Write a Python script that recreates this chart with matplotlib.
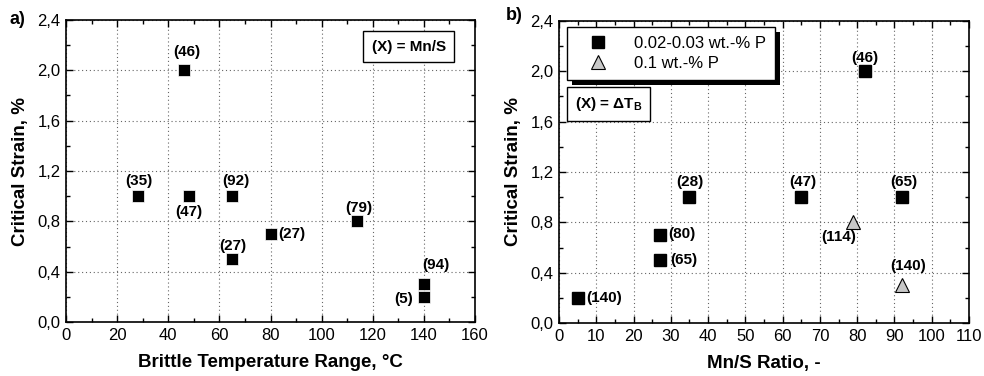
import matplotlib
matplotlib.use("Agg")
import matplotlib.pyplot as plt
from matplotlib.ticker import MultipleLocator, FuncFormatter
from matplotlib.patches import Rectangle
from matplotlib.transforms import IdentityTransform

plt.rcParams['font.family'] = ['Liberation Sans', 'DejaVu Sans']
plt.rcParams['mathtext.fontset'] = 'custom'
plt.rcParams['mathtext.rm'] = 'Liberation Sans'
plt.rcParams['mathtext.bf'] = 'Liberation Sans:bold'

# Panel a data
a_x = [28, 46, 48, 65, 65, 80, 114, 140, 140]
a_y = [1.0, 2.0, 1.0, 1.0, 0.5, 0.7, 0.8, 0.3, 0.2]
a_labels = ["(35)", "(46)", "(47)", "(92)", "(27)", "(27)", "(79)", "(94)", "(5)"]
a_offsets_px = [(1, 15), (3, 18), (0, -16), (4, 15), (1, 13), (21, 0), (1, 13), (12, 19), (-20, -2)]

# Panel b data
b_sq_x = [5, 27, 27, 35, 65, 82, 92]
b_sq_y = [0.2, 0.7, 0.5, 1.0, 1.0, 2.0, 1.0]
b_sq_labels = ["(140)", "(80)", "(65)", "(28)", "(47)", "(46)", "(65)"]
b_sq_offsets_px = [(26, 0), (22, 1), (24, 0), (0, 15), (2, 15), (0, 13), (2, 15)]
b_tri_x = [79, 92]
b_tri_y = [0.8, 0.3]
b_tri_labels = ["(114)", "(140)"]
b_tri_offsets_px = [(-15, -15), (6, 19)]

series_names = ["0.02-0.03 wt.-% P", "0.1 wt.-% P"]

fig = plt.figure(figsize=(9.84, 3.76), dpi=100)
W, H = 984, 376
axa = fig.add_axes([66 / W, 1 - 322 / H, (475 - 66) / W, (322 - 20) / H])
axb = fig.add_axes([559 / W, 1 - 323 / H, (969 - 559) / W, (323 - 21) / H])

comma = FuncFormatter(lambda v, p: (f"{v:.1f}").replace('.', ','))
intfmt = FuncFormatter(lambda v, p: f"{v:.0f}")

def style(ax, xmax, xmaj, xmin):
    ax.set_xlim(0, xmax)
    ax.set_ylim(0, 2.4)
    ax.xaxis.set_major_locator(MultipleLocator(xmaj))
    ax.xaxis.set_minor_locator(MultipleLocator(xmin))
    ax.yaxis.set_major_locator(MultipleLocator(0.4))
    ax.yaxis.set_minor_locator(MultipleLocator(0.2))
    ax.yaxis.set_major_formatter(comma)
    ax.xaxis.set_major_formatter(intfmt)
    ax.tick_params(which='both', direction='in', top=True, right=True, width=1.0, colors='black')
    ax.tick_params(which='major', length=5, labelsize=12, pad=4)
    ax.tick_params(which='minor', length=3)
    ax.grid(True, which='major', linestyle=(0, (1, 2.5)), color='#666666', linewidth=0.8)
    ax.set_axisbelow(True)
    for s in ax.spines.values():
        s.set_linewidth(1.2)
    ax.set_ylabel("Critical Strain, %", fontsize=13.5, fontweight='bold', labelpad=6)

style(axa, 160, 20, 10)
style(axb, 110, 10, 5)

axa.set_xlabel("Brittle Temperature Range, °C", fontsize=13.5, fontweight='bold', labelpad=8)
axb.set_xlabel("Mn/S Ratio, -", fontsize=13.5, fontweight='bold', labelpad=8)

def px2pt(o):
    return (o[0] * 0.72, o[1] * 0.72)

axa.plot(a_x, a_y, 's', color='black', mec='white', mew=0.5, ms=8.6, zorder=3)
for x, y, t, o in zip(a_x, a_y, a_labels, a_offsets_px):
    axa.annotate(t, (x, y), xytext=px2pt(o), textcoords='offset points',
                 ha='center', va='center', fontsize=11, fontweight='bold')

h1, = axb.plot(b_sq_x, b_sq_y, 's', color='black', ms=8, zorder=3, label=series_names[0])
h2, = axb.plot(b_tri_x, b_tri_y, '^', color='#c8c8c8', mec='black', mew=0.8, ms=10, zorder=3, label=series_names[1])
for x, y, t, o in zip(b_sq_x, b_sq_y, b_sq_labels, b_sq_offsets_px):
    axb.annotate(t, (x, y), xytext=px2pt(o), textcoords='offset points',
                 ha='center', va='center', fontsize=11, fontweight='bold')
for x, y, t, o in zip(b_tri_x, b_tri_y, b_tri_labels, b_tri_offsets_px):
    axb.annotate(t, (x, y), xytext=px2pt(o), textcoords='offset points',
                 ha='center', va='center', fontsize=11, fontweight='bold')

# text boxes
axa.text(0.838, 0.911, "(X) = Mn/S", transform=axa.transAxes, ha='center', va='center',
         fontsize=11, fontweight='bold',
         bbox=dict(boxstyle='square,pad=0.55', facecolor='white', edgecolor='black', linewidth=1.0), zorder=6)
axb.text(0.121, 0.725, r"(X) = $\mathbf{\Delta T_B}$", transform=axb.transAxes, ha='center', va='center',
         fontsize=11, fontweight='bold',
         bbox=dict(boxstyle='square,pad=0.5', facecolor='white', edgecolor='black', linewidth=1.0), zorder=6)

leg = axb.legend(handles=[h1, h2], loc='upper left', bbox_to_anchor=(0.019, 0.98),
                 borderaxespad=0, fancybox=False, framealpha=1, edgecolor='black',
                 fontsize=12, handlelength=2.6, handletextpad=0.9, borderpad=0.55,
                 labelspacing=0.3)
leg.get_frame().set_linewidth(1.0)
leg.set_zorder(7)

fig.canvas.draw()
bb = leg.get_window_extent()
shadow = Rectangle((bb.x0 + 5, bb.y0 - 5), bb.width, bb.height, transform=IdentityTransform(),
                   facecolor='black', edgecolor='none', zorder=6.5, clip_on=False)
axb.add_artist(shadow)

fig.text(10 / W, 1 - 19 / H, "a)", fontsize=13, fontweight='bold', ha='left', va='center')
fig.text(506 / W, 1 - 16 / H, "b)", fontsize=13, fontweight='bold', ha='left', va='center')

fig.savefig("out.png", dpi=100)
